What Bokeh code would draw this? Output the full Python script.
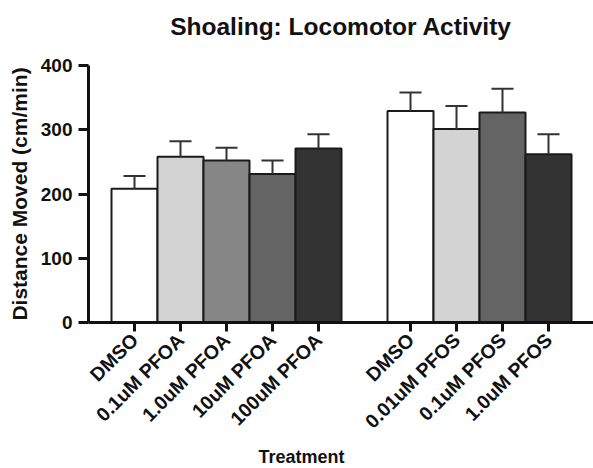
import math
from bokeh.plotting import figure
from bokeh.models import FixedTicker, Range1d, ColumnDataSource, Title
from bokeh.embed import file_html
from bokeh.resources import INLINE

# ---- data ----
pfoa_labels = ["DMSO", "0.1uM PFOA", "1.0uM PFOA", "10uM PFOA", "100uM PFOA"]
pfoa_means = [208, 258, 252, 231, 271]
pfoa_sem = [20, 24, 20, 21, 22]
pfoa_colors = ["#ffffff", "#d3d3d3", "#868686", "#646464", "#333333"]

pfos_labels = ["DMSO", "0.01uM PFOS", "0.1uM PFOS", "1.0uM PFOS"]
pfos_means = [329, 301, 327, 262]
pfos_sem = [29, 36, 37, 31]
pfos_colors = ["#ffffff", "#d3d3d3", "#646464", "#333333"]

y_ticks = [0, 100, 200, 300, 400]

# positions derived from group sizes (one empty slot between groups)
x_pfoa = [i + 1 for i in range(len(pfoa_labels))]
x_pfos = [len(pfoa_labels) + 2 + i for i in range(len(pfos_labels))]

xs = x_pfoa + x_pfos
means = pfoa_means + pfos_means
sems = pfoa_sem + pfos_sem
colors = pfoa_colors + pfos_colors
labels = pfoa_labels + pfos_labels
tops = [m + s for m, s in zip(means, sems)]
cap = 0.24

src = ColumnDataSource(dict(
    x=xs, top=means, upper=tops, color=colors,
    cl=[x - cap for x in xs], cr=[x + cap for x in xs],
))

FONT = "Liberation Sans"

p = figure(width=593, height=468, output_backend="svg", toolbar_location=None,
           x_range=Range1d(0, 505 / 46), y_range=Range1d(0, 400),
           min_border_left=88, min_border_right=0, min_border_top=65,
           min_border_bottom=146)

# spacer between title and plot area
p.add_layout(Title(text=" ", text_font_size="1px", standoff=18), "above")

p.title.text = "Shoaling: Locomotor Activity"
p.title.align = "center"
p.title.text_font = FONT
p.title.text_font_size = "24.5px"
p.title.text_font_style = "bold"
p.title.text_color = "#111111"
p.title.standoff = 10

p.vbar(x="x", top="top", bottom=0, width=1.0, source=src,
       fill_color="color", line_color="#1a1a1a", line_width=2)
p.segment(x0="x", y0="top", x1="x", y1="upper", source=src,
          line_color="#333333", line_width=2)
p.segment(x0="cl", y0="upper", x1="cr", y1="upper", source=src,
          line_color="#333333", line_width=2)

p.xgrid.visible = False
p.ygrid.visible = False
p.outline_line_color = None
p.background_fill_color = "white"
p.border_fill_color = "white"

# y axis
ya = p.yaxis[0]
ya.ticker = FixedTicker(ticks=y_ticks)
ya.axis_label = "Distance Moved (cm/min)"
ya.axis_label_text_font = FONT
ya.axis_label_text_font_size = "21px"
ya.axis_label_text_font_style = "bold"
ya.axis_label_text_color = "#111111"
ya.axis_label_standoff = 7
ya.major_label_text_font = FONT
ya.major_label_text_font_size = "19px"
ya.major_label_text_font_style = "bold"
ya.major_label_text_color = "#111111"
ya.major_label_standoff = 6
ya.axis_line_width = 3
ya.axis_line_color = "#111111"
ya.major_tick_line_width = 3
ya.major_tick_line_color = "#111111"
ya.major_tick_out = 10
ya.major_tick_in = 0
ya.minor_tick_line_color = None

# x axis
xa = p.xaxis[0]
xa.ticker = FixedTicker(ticks=xs)
xa.major_label_overrides = {x: lab for x, lab in zip(xs, labels)}
xa.major_label_orientation = math.pi / 4
xa.major_label_text_font = FONT
xa.major_label_text_font_size = "19.5px"
xa.major_label_text_font_style = "bold"
xa.major_label_text_color = "#111111"
xa.major_label_standoff = 5
xa.axis_line_width = 3
xa.axis_line_color = "#111111"
xa.major_tick_line_width = 3
xa.major_tick_line_color = "#111111"
xa.major_tick_out = 9
xa.major_tick_in = 0
xa.minor_tick_line_color = None

xt = Title(text="Treatment", align="left", offset=170, text_font=FONT,
           text_font_size="18px", text_font_style="bold", text_color="#111111",
           standoff=3)
p.add_layout(xt, "below")

open("out.html", "w").write(file_html(p, INLINE))
